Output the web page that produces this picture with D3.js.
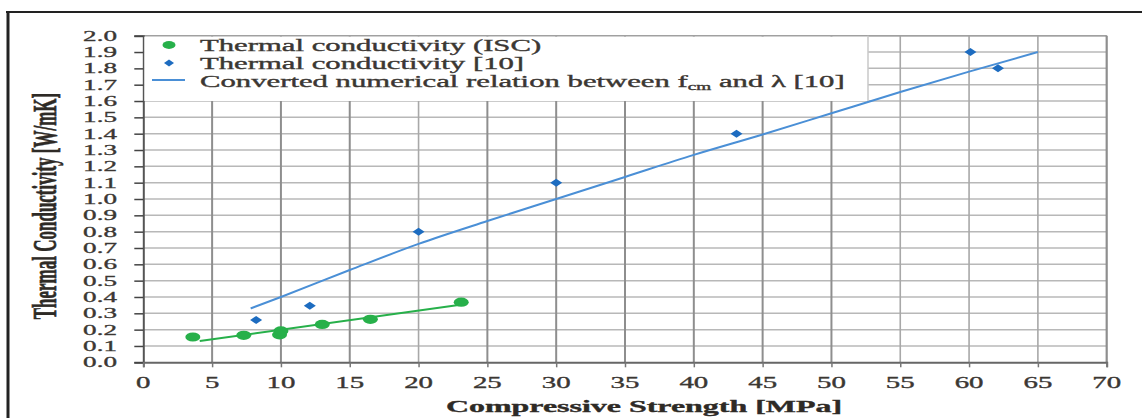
<!DOCTYPE html>
<html>
<head>
<meta charset="utf-8">
<script src="https://cdn.jsdelivr.net/npm/d3@7/dist/d3.min.js"></script>
<style>
  html, body { margin: 0; padding: 0; background: #fff; }
  svg { display: block; }
  text { font-family: "Liberation Serif", "Times New Roman", serif; fill: #3b3733; stroke: #3b3733; stroke-width: 0.35; }
</style>
</head>
<body>
<svg id="chart" width="1142" height="418"></svg>
<script>
// Measured thermal conductivity of ISC specimens [MPa, W/mK]
const iscStrength     = [3.6, 7.3, 9.9, 10.0, 13.0, 16.5, 23.1];
const iscConductivity = [0.155, 0.165, 0.168, 0.192, 0.232, 0.263, 0.368];

// Reference data [10]
const refStrength     = [8.2, 12.1, 20.0, 30.0, 43.1, 60.1, 62.1];
const refConductivity = [0.259, 0.347, 0.80, 1.10, 1.40, 1.90, 1.80];

// Trend line through the ISC points
const iscFitStrength     = [4.1, 23.3];
const iscFitConductivity = [0.13, 0.355];

// Converted numerical relation between f_cm and lambda [10]
const relStrength     = [7.8, 10, 15, 20, 25, 30, 35, 40, 45, 50, 55, 60, 65];
const relConductivity = [0.33, 0.40, 0.565, 0.725, 0.865, 1.0, 1.135, 1.27, 1.395, 1.525, 1.655, 1.78, 1.90];

const xTicks = [0, 5, 10, 15, 20, 25, 30, 35, 40, 45, 50, 55, 60, 65, 70];
const yTicks = [0, 0.1, 0.2, 0.3, 0.4, 0.5, 0.6, 0.7, 0.8, 0.9, 1.0, 1.1, 1.2, 1.3, 1.4, 1.5, 1.6, 1.7, 1.8, 1.9, 2.0];

const legendLabels = ["Thermal conductivity (ISC)", "Thermal conductivity [10]"];

const svg = d3.select("#chart");
const plot = { left: 143.3, right: 1106.7, top: 35.7, bottom: 362.3 };

const x = d3.scaleLinear().domain([0, 70]).range([plot.left, plot.right]);
const y = d3.scaleLinear().domain([0, 2]).range([plot.bottom, plot.top]);

const GREEN = "#27b04a";
const BLUE_PT = "#1d6cc0";
const BLUE_LN = "#4a8fd6";
const SX = 1.75; // horizontal glyph stretch used for tick labels

// outer frame (top and left edges)
svg.append("line").attr("x1", 6).attr("x2", 1142).attr("y1", 12).attr("y2", 12)
  .attr("stroke", "#222").attr("stroke-width", 2);
svg.append("line").attr("x1", 8).attr("x2", 8).attr("y1", 11).attr("y2", 418)
  .attr("stroke", "#222").attr("stroke-width", 3);

// horizontal grid
svg.append("g").selectAll("line").data(yTicks.filter(d => d > 0)).join("line")
  .attr("x1", plot.left).attr("x2", plot.right)
  .attr("y1", d => y(d)).attr("y2", d => y(d))
  .attr("stroke", "#b8b8b8").attr("stroke-width", 1.5);

// vertical grid
svg.append("g").selectAll("line").data(xTicks.filter(d => d > 0 && d < 70)).join("line")
  .attr("x1", d => x(d)).attr("x2", d => x(d))
  .attr("y1", plot.top).attr("y2", plot.bottom)
  .attr("stroke", d => d <= 50 && d !== 20 ? "#8e8e8e" : "#a8a8a8")
  .attr("stroke-width", d => d <= 50 && d !== 20 ? 2 : 1.6);

// plot frame top/right
svg.append("line").attr("x1", plot.left).attr("x2", plot.right)
  .attr("y1", plot.top).attr("y2", plot.top).attr("stroke", "#a0a0a0").attr("stroke-width", 1.5);
svg.append("line").attr("x1", plot.right).attr("x2", plot.right)
  .attr("y1", plot.top).attr("y2", plot.bottom).attr("stroke", "#8e8e8e").attr("stroke-width", 2.2);

// axes
const yAxis = d3.axisLeft(y).tickValues(yTicks).tickSize(9).tickFormat("");
const gy = svg.append("g").attr("transform", `translate(${plot.left},0)`).call(yAxis);
gy.select(".domain").attr("stroke", "#555").attr("stroke-width", 2);
gy.selectAll(".tick line").attr("stroke", "#444").attr("stroke-width", 1.5);

const xAxis = d3.axisBottom(x).tickValues(xTicks).tickSize(5).tickFormat("");
const gx = svg.append("g").attr("transform", `translate(0,${plot.bottom})`).call(xAxis);
gx.select(".domain").attr("stroke", "#666").attr("stroke-width", 2);
gx.selectAll(".tick line").attr("stroke", "#777").attr("stroke-width", 1.5);

// tick labels
svg.append("g").selectAll("text").data(yTicks).join("text")
  .attr("transform", d => `translate(117,${y(d) + 5}) scale(${SX},1)`)
  .attr("text-anchor", "end").attr("font-size", 15.5)
  .text(d => d.toFixed(1));

svg.append("g").selectAll("text").data(xTicks).join("text")
  .attr("transform", d => `translate(${x(d)},388) scale(${SX},1)`)
  .attr("text-anchor", "middle").attr("font-size", 16.5)
  .text(d => d);

// axis titles
svg.append("text")
  .attr("transform", `translate(644,412) scale(1.88,1)`)
  .attr("text-anchor", "middle").attr("font-size", 17).attr("font-weight", "bold")
  .style("fill", "#2e2a26").style("stroke", "#2e2a26")
  .text("Compressive Strength [MPa]");

svg.append("text")
  .attr("transform", `translate(56,206) scale(2.0,1) rotate(-90)`)
  .attr("text-anchor", "middle").attr("font-size", 17).attr("font-weight", "bold")
  .style("fill", "#2e2a26").style("stroke", "#2e2a26")
  .text("Thermal Conductivity [W/mK]");

// series
svg.append("path")
  .datum(relStrength.map((s, i) => [s, relConductivity[i]]))
  .attr("d", d3.line().x(d => x(d[0])).y(d => y(d[1])).curve(d3.curveMonotoneX))
  .attr("fill", "none").attr("stroke", BLUE_LN).attr("stroke-width", 2);

svg.append("path")
  .datum(iscFitStrength.map((s, i) => [s, iscFitConductivity[i]]))
  .attr("d", d3.line().x(d => x(d[0])).y(d => y(d[1])))
  .attr("fill", "none").attr("stroke", GREEN).attr("stroke-width", 2);

const diamond = (hw, hh) => `M0,${-hh}L${hw},0L0,${hh}L${-hw},0Z`;

svg.append("g").selectAll("path").data(refStrength.map((s, i) => [s, refConductivity[i]])).join("path")
  .attr("transform", d => `translate(${x(d[0])},${y(d[1])})`)
  .attr("d", diamond(6, 4)).attr("fill", BLUE_PT);

svg.append("g").selectAll("ellipse").data(iscStrength.map((s, i) => [s, iscConductivity[i]])).join("ellipse")
  .attr("cx", d => x(d[0])).attr("cy", d => y(d[1]))
  .attr("rx", 7.5).attr("ry", 4.6).attr("fill", GREEN);

// legend
const lg = svg.append("g");
lg.append("rect").attr("x", plot.left + 1).attr("y", plot.top + 1)
  .attr("width", 868 - plot.left - 1).attr("height", y(1.6) - plot.top - 1)
  .attr("fill", "#fff");
lg.append("line").attr("x1", 868).attr("x2", 868).attr("y1", plot.top).attr("y2", y(1.6))
  .attr("stroke", "#c8c8c8").attr("stroke-width", 1.5);

lg.append("ellipse").attr("cx", 169).attr("cy", 45).attr("rx", 6.5).attr("ry", 3.9).attr("fill", GREEN);
lg.append("path").attr("transform", "translate(169,63)").attr("d", diamond(5, 3.5)).attr("fill", BLUE_PT);
lg.append("line").attr("x1", 152).attr("x2", 185).attr("y1", 80).attr("y2", 80)
  .attr("stroke", BLUE_LN).attr("stroke-width", 2);

const baselines = [51, 69, 87];
const LSX = 1.92;
lg.selectAll("text.lab").data(legendLabels).join("text").attr("class", "lab")
  .attr("transform", (d, i) => `translate(200,${baselines[i]}) scale(${LSX},1)`)
  .attr("font-size", 16).text(d => d);

const t3 = lg.append("text")
  .attr("transform", `translate(200,${baselines[2]}) scale(${LSX},1)`)
  .attr("font-size", 16);
t3.append("tspan").text("Converted numerical relation between f");
t3.append("tspan").attr("font-size", 10).attr("dy", 3).text("cm");
t3.append("tspan").attr("dy", -3).text(" and λ [10]");
</script>
</body>
</html>
